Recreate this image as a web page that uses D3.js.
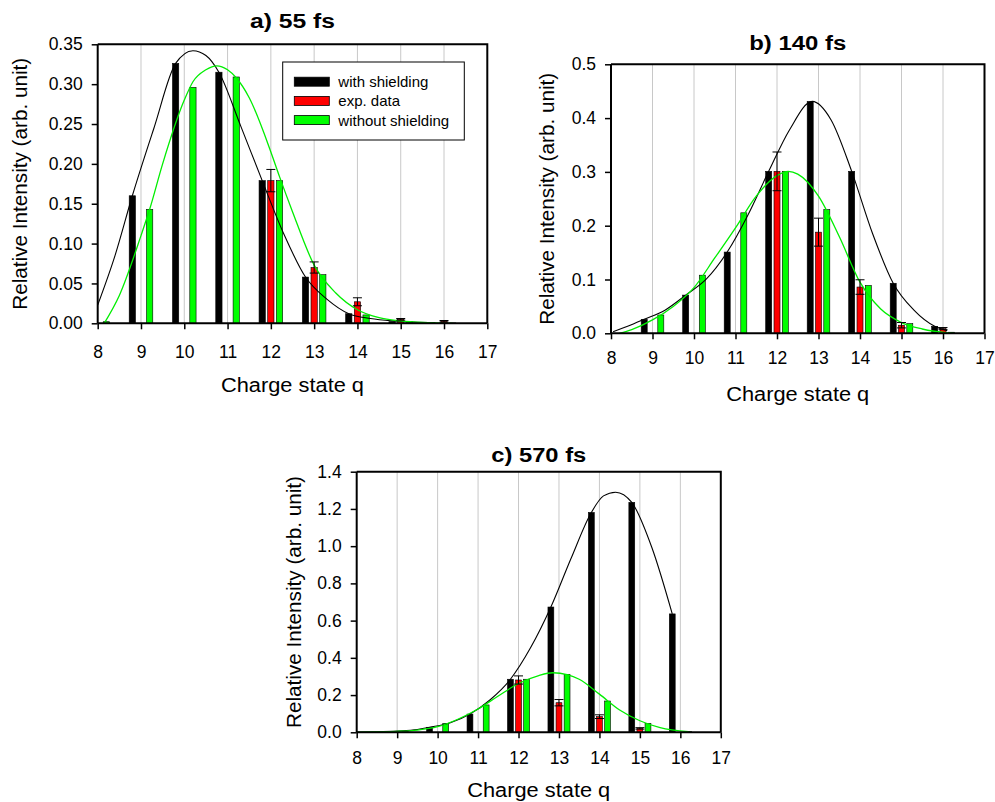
<!DOCTYPE html>
<html>
<head>
<meta charset="utf-8">
<script src="https://cdn.jsdelivr.net/npm/d3@7"></script>
<style>
  html, body { margin: 0; padding: 0; background: #fff; }
  svg { display: block; }
  text { font-family: "Liberation Sans", Arial, sans-serif; }
</style>
</head>
<body>
<div id="chart"></div>
<script>
// ---------------- DATA ----------------
const xTicks = [8, 9, 10, 11, 12, 13, 14, 15, 16, 17];
const gridQ = [9, 10, 11, 12, 13, 14, 15, 16];
const seriesNames = ["with shielding", "exp. data", "without shielding"];
const xLabel = "Charge state q";
const yLabel = "Relative Intensity (arb. unit)";

// Panel a) 55 fs
const titleA = "a) 55 fs";
const yTicksA = [0.00, 0.05, 0.10, 0.15, 0.20, 0.25, 0.30, 0.35];
const qA = [8, 9, 10, 11, 12, 13, 14, 15, 16];
const withA = [null, 0.160, 0.326, 0.315, 0.179, 0.058, 0.012, 0.002, null];
const expA = [null, null, null, null, 0.179, 0.070, 0.027, 0.005, 0.0025];
const expErrA = [null, null, null, null, 0.014, 0.007, 0.005, 0.001, 0.001];
const withoutA = [0.002, 0.143, 0.296, 0.309, 0.179, 0.061, 0.0105, 0.002, 0.0005];
const fitWithA_q = [8.0, 8.4, 8.8, 9.3, 9.8, 10.2, 10.5, 10.8, 11.3, 11.8, 12.3, 12.8, 13.3, 13.8, 14.3, 14.8, 15.3, 15.8];
const fitWithA_v = [0.023, 0.085, 0.160, 0.245, 0.326, 0.342, 0.336, 0.315, 0.248, 0.179, 0.112, 0.058, 0.030, 0.012, 0.006, 0.003, 0.0015, 0.0008];
const fitWithoutA_q = [8.15, 8.5, 9.0, 9.2, 9.5, 10.0, 10.2, 10.5, 10.75, 11.0, 11.2, 11.5, 12.0, 12.2, 12.5, 13.0, 13.5, 14.0, 14.5, 15.0, 15.5, 16.2];
const fitWithoutA_v = [0.0, 0.035, 0.110, 0.143, 0.200, 0.280, 0.303, 0.318, 0.323, 0.318, 0.308, 0.283, 0.215, 0.184, 0.140, 0.073, 0.038, 0.017, 0.007, 0.003, 0.001, 0.0];

// Panel b) 140 fs
const titleB = "b) 140 fs";
const yTicksB = [0.0, 0.1, 0.2, 0.3, 0.4, 0.5];
const qB = [9, 10, 11, 12, 13, 14, 15, 16];
const withB = [0.026, 0.071, 0.151, 0.301, 0.431, 0.301, 0.093, 0.013];
const expB = [null, null, null, 0.301, 0.188, 0.086, 0.015, 0.0087];
const expErrB = [null, null, null, 0.036, 0.026, 0.0135, 0.005, 0.002];
const withoutB = [0.034, 0.108, 0.224, 0.301, 0.230, 0.089, 0.018, 0.002];
const fitWithB_q = [8.05, 8.4, 8.8, 9.3, 9.8, 10.3, 10.8, 11.3, 11.8, 12.3, 12.85, 13.3, 13.8, 14.3, 14.8, 15.3, 15.8, 16.1];
const fitWithB_v = [0.003, 0.013, 0.026, 0.043, 0.071, 0.101, 0.151, 0.220, 0.301, 0.378, 0.431, 0.397, 0.301, 0.186, 0.093, 0.043, 0.013, 0.005];
const fitWithoutB_q = [8.2, 8.5, 9.0, 9.5, 10.0, 10.5, 11.0, 11.5, 12.0, 12.27, 12.5, 13.0, 13.5, 14.0, 14.5, 15.0, 15.5, 16.2];
const fitWithoutB_v = [0.0, 0.007, 0.025, 0.050, 0.085, 0.140, 0.196, 0.255, 0.293, 0.301, 0.296, 0.255, 0.180, 0.095, 0.045, 0.020, 0.008, 0.0];

// Panel c) 570 fs
const titleC = "c) 570 fs";
const yTicksC = [0.0, 0.2, 0.4, 0.6, 0.8, 1.0, 1.2, 1.4];
const qC = [9, 10, 11, 12, 13, 14, 15, 16];
const withC = [0.004, 0.027, 0.098, 0.285, 0.673, 1.181, 1.235, 0.636];
const expC = [null, null, null, 0.281, 0.159, 0.084, 0.021, null];
const expErrC = [null, null, null, 0.022, 0.017, 0.010, 0.004, null];
const withoutC = [0.005, 0.048, 0.147, 0.285, 0.311, 0.168, 0.048, 0.004];
const fitWithC_q = [8.0, 8.5, 9.0, 9.5, 9.8, 10.3, 10.8, 11.3, 11.8, 12.3, 12.8, 13.3, 13.8, 14.1, 14.4, 14.8, 15.3, 15.8];
const fitWithC_v = [0.001, 0.003, 0.007, 0.015, 0.027, 0.050, 0.098, 0.175, 0.285, 0.455, 0.673, 0.935, 1.181, 1.270, 1.290, 1.235, 0.990, 0.636];
const fitWithoutC_q = [8.0, 8.5, 9.0, 9.5, 10.0, 10.5, 11.0, 11.5, 12.0, 12.5, 12.85, 13.2, 13.5, 14.0, 14.5, 15.0, 15.5, 16.2];
const fitWithoutC_v = [0.0, 0.002, 0.005, 0.012, 0.030, 0.070, 0.125, 0.195, 0.262, 0.305, 0.320, 0.310, 0.285, 0.205, 0.120, 0.062, 0.025, 0.003];

// ---------------- DRAWING ----------------
const W = 995, H = 802;
const colors = ["#000000", "#ff0000", "#00ff00"];
const svg = d3.select("#chart").append("svg").attr("width", W).attr("height", H);

function zip(q, v) { return q.map((d, i) => ({ q: d, v: v[i] })); }

function drawPanel(cfg) {
  const g = svg.append("g");
  const x = d3.scaleLinear().domain([8, 17]).range([cfg.left, cfg.right]);
  const y = d3.scaleLinear().domain([0, cfg.ymax]).range([cfg.bottom, cfg.top]);

  // grid
  g.append("g").selectAll("line").data(gridQ).join("line")
    .attr("x1", d => x(d)).attr("x2", d => x(d))
    .attr("y1", cfg.top).attr("y2", cfg.bottom)
    .attr("stroke", "#c8c8c8").attr("stroke-width", 1);

  const bw = 0.145;
  const offsets = [-0.2, 0, 0.2];
  const series = [cfg.withV, cfg.expV, cfg.withoutV];
  series.forEach((vals, si) => {
    const data = cfg.q.map((q, i) => ({ q: q + offsets[si], v: vals[i] })).filter(d => d.v != null);
    g.append("g").selectAll("rect").data(data).join("rect")
      .attr("x", d => x(d.q - bw / 2))
      .attr("width", x(8 + bw) - x(8))
      .attr("y", d => y(d.v))
      .attr("height", d => y(0) - y(d.v))
      .attr("fill", colors[si])
      .attr("stroke", "#000").attr("stroke-width", 0.6);
  });

  // fit curves
  const line = d3.line().x(d => x(d.q)).y(d => y(d.v)).curve(d3.curveMonotoneX);
  g.append("path").datum(zip(cfg.fitWith_q, cfg.fitWith_v))
    .attr("d", line).attr("fill", "none").attr("stroke", "#000").attr("stroke-width", 1.1);
  g.append("path").datum(zip(cfg.fitWithout_q, cfg.fitWithout_v))
    .attr("d", line).attr("fill", "none").attr("stroke", "#00ee00").attr("stroke-width", 1.3);

  // error bars
  const errs = cfg.q.map((q, i) => ({ q: q, v: cfg.expV[i], e: cfg.expErr[i] })).filter(d => d.v != null);
  const eg = g.append("g").attr("stroke", "#000").attr("stroke-width", 1);
  const capW = 4.5;
  errs.forEach(d => {
    const cx = x(d.q);
    const yTop = y(d.v + d.e), yBot = y(Math.max(0, d.v - d.e));
    eg.append("line").attr("x1", cx).attr("x2", cx).attr("y1", yTop).attr("y2", yBot);
    eg.append("line").attr("x1", cx - capW).attr("x2", cx + capW).attr("y1", yTop).attr("y2", yTop);
    eg.append("line").attr("x1", cx - capW).attr("x2", cx + capW).attr("y1", yBot).attr("y2", yBot);
  });

  // axes
  const xAxis = d3.axisBottom(x).tickValues(xTicks).tickSize(6).tickPadding(cfg.xPad).tickFormat(d3.format("d"));
  const xa = g.append("g").attr("transform", `translate(0,${cfg.bottom})`).call(xAxis);
  const yAxis = d3.axisLeft(y).tickValues(cfg.yTicks).tickSize(6).tickPadding(9).tickFormat(d3.format(cfg.yFmt));
  const ya = g.append("g").attr("transform", `translate(${cfg.left},0)`).call(yAxis);
  [xa, ya].forEach(a => {
    a.selectAll("path").attr("stroke-width", 2).attr("stroke", "#000");
    a.selectAll("line").attr("stroke-width", 1.5).attr("stroke", "#000");
    a.selectAll("text").attr("font-size", 17.5).attr("fill", "#000")
      .attr("font-family", "Liberation Sans, Arial, sans-serif");
  });
  xa.select(".domain").attr("d", `M${cfg.left},0H${cfg.right}`);
  ya.select(".domain").attr("d", `M0,${cfg.bottom}V${cfg.top}`);
  // frame (top, right)
  g.append("path").attr("d", `M${cfg.left},${cfg.top}H${cfg.right}V${cfg.bottom}`)
    .attr("fill", "none").attr("stroke", "#000").attr("stroke-width", 2);

  // titles / labels
  const cx = (cfg.left + cfg.right) / 2;
  g.append("text").attr("x", cx).attr("y", cfg.titleY).attr("text-anchor", "middle")
    .attr("font-size", 20).attr("font-weight", "bold")
    .attr("textLength", cfg.titleLen).attr("lengthAdjust", "spacingAndGlyphs").text(cfg.title);
  g.append("text").attr("x", cx).attr("y", cfg.xLabelY).attr("text-anchor", "middle")
    .attr("font-size", 20).attr("textLength", 143).attr("lengthAdjust", "spacingAndGlyphs").text(xLabel);
  g.append("text").attr("transform", `translate(${cfg.yLabelX},${(cfg.top + cfg.bottom) / 2}) rotate(-90)`)
    .attr("text-anchor", "middle").attr("font-size", 20)
    .attr("textLength", 252).attr("lengthAdjust", "spacingAndGlyphs").text(yLabel);

  return { x, y, g };
}

drawPanel({
  left: 97.7, right: 487.3, top: 44.3, bottom: 323.3, ymax: 0.35,
  yTicks: yTicksA, yFmt: ".2f", xPad: 16,
  q: qA, withV: withA, expV: expA, expErr: expErrA, withoutV: withoutA,
  fitWith_q: fitWithA_q, fitWith_v: fitWithA_v, fitWithout_q: fitWithoutA_q, fitWithout_v: fitWithoutA_v,
  title: titleA, titleLen: 85, titleY: 28, xLabelY: 392, yLabelX: 27
});
drawPanel({
  left: 611, right: 984.5, top: 64.3, bottom: 333.3, ymax: 0.5,
  yTicks: yTicksB, yFmt: ".1f", xPad: 12,
  q: qB, withV: withB, expV: expB, expErr: expErrB, withoutV: withoutB,
  fitWith_q: fitWithB_q, fitWith_v: fitWithB_v, fitWithout_q: fitWithoutB_q, fitWithout_v: fitWithoutB_v,
  title: titleB, titleLen: 97, titleY: 50, xLabelY: 401, yLabelX: 554
});
drawPanel({
  left: 356.7, right: 720.8, top: 471.7, bottom: 732.3, ymax: 1.4,
  yTicks: yTicksC, yFmt: ".1f", xPad: 13,
  q: qC, withV: withC, expV: expC, expErr: expErrC, withoutV: withoutC,
  fitWith_q: fitWithC_q, fitWith_v: fitWithC_v, fitWithout_q: fitWithoutC_q, fitWithout_v: fitWithoutC_v,
  title: titleC, titleLen: 95, titleY: 462, xLabelY: 797, yLabelX: 301
});

// legend (panel a)
const lg = svg.append("g");
lg.append("rect").attr("x", 282.7).attr("y", 62).attr("width", 181.6).attr("height", 78)
  .attr("fill", "#fff").attr("stroke", "#000").attr("stroke-width", 1);
seriesNames.forEach((name, i) => {
  const yy = 81.7 + i * 19.2;
  lg.append("rect").attr("x", 294.3).attr("y", yy - 4.5).attr("width", 35).attr("height", 9)
    .attr("fill", colors[i]).attr("stroke", "#000").attr("stroke-width", 0.8);
  lg.append("text").attr("x", 338.3).attr("y", yy + 5.5).attr("font-size", 15).text(name);
});
</script>
</body>
</html>
